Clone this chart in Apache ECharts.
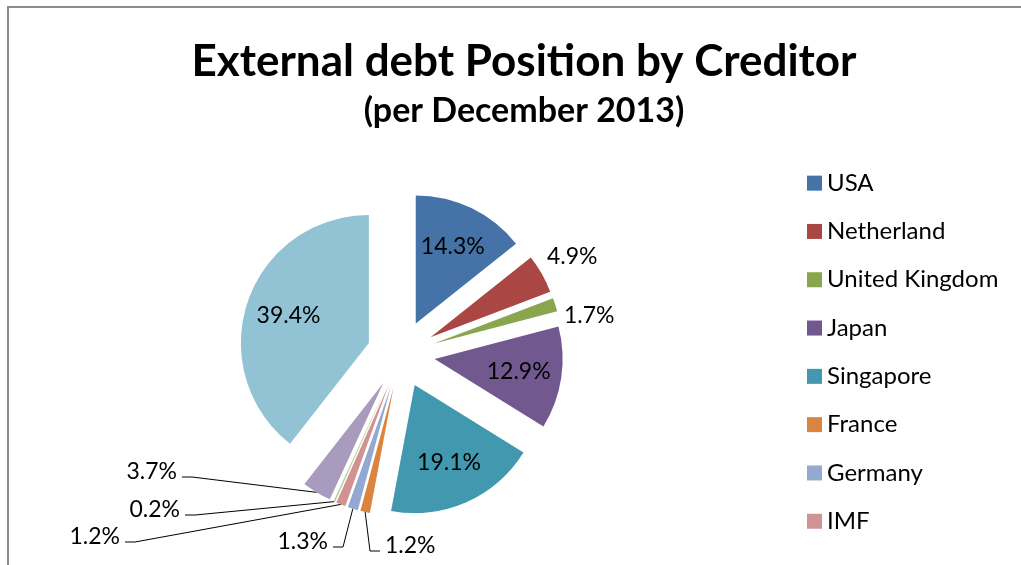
<!DOCTYPE html>
<html><head><meta charset="utf-8">
<script src="https://cdn.jsdelivr.net/npm/echarts@6/dist/echarts.min.js"></script>
<style>html,body{margin:0;padding:0;background:#fff}#c{width:1021px;height:565px}</style>
</head><body><div id="c"></div>
<script>
const creditors = ['USA', 'Netherland', 'United Kingdom', 'Japan', 'Singapore', 'France', 'Germany', 'IMF', 'ADB', 'World Bank', 'Others'];
const shares = [14.3, 4.9, 1.7, 12.9, 19.1, 1.2, 1.3, 1.2, 0.2, 3.7, 39.4];
const colors = ['#4572A7', '#AA4643', '#89A54E', '#71588F', '#4198AF', '#DB843D', '#93A9CF', '#D19392', '#B9CD96', '#A99BBD', '#91C3D5'];
const legendNames = creditors.slice(0, 8);
const titleText = 'External debt Position by Creditor';
const subtitleText = '(per December 2013)';

const R = 128;
const EXPLODE = 34;
const insideSet = new Set([0, 3, 4, 10]);
const total = shares.reduce((a, b) => a + b, 0);
const midAngles = [];
let acc = 0;
shares.forEach(v => { midAngles.push((acc + v / 2) / total * 2 * Math.PI); acc += v; });

// where the outside labels sit: [side of label the line attaches to, label edge x, label centre y]
const labelSpots = {
  1: ['left', 547, 257], 2: ['left', 564, 316],
  5: ['left', 385, 546], 6: ['right', 328, 542], 7: ['right', 120, 537],
  8: ['right', 180, 510], 9: ['right', 177, 472]
};
const LINE_DROP = 5;

const data = creditors.map((name, i) => {
  const inside = insideSet.has(i);
  return {
    name, value: shares[i], selected: true,
    label: { position: inside ? 'inside' : 'outside' },
    labelLine: { show: !inside && i >= 5, length: 10, length2: 10 }
  };
});

const chart = echarts.init(document.getElementById('c'), null, { renderer: 'canvas' });
chart.setOption({
  animation: false,
  color: colors,
  title: [
    { text: titleText, left: 519, top: 35, textAlign: 'center',
      textStyle: { fontFamily: 'Lato', fontWeight: 'bold', fontSize: 44, color: '#000' } },
    { text: subtitleText, left: 519, top: 89, textAlign: 'center',
      textStyle: { fontFamily: 'Lato', fontWeight: 'bold', fontSize: 34, color: '#000' } }
  ],
  graphic: [{
    type: 'rect', shape: { x: 8, y: 7, width: 1200, height: 700 },
    style: { fill: 'none', stroke: '#8c8c8c', lineWidth: 2 }, silent: true
  }],
  legend: {
    data: legendNames, orient: 'vertical', left: 807, top: 169, padding: 0,
    itemWidth: 15, itemHeight: 15, itemGap: 20, icon: 'rect',
    textStyle: { fontFamily: 'Lato', fontSize: 24, color: '#000', lineHeight: 28.3 },
    selectedMode: false
  },
  series: [{
    type: 'pie', center: [401, 354], radius: [0, R],
    startAngle: 90, clockwise: true,
    selectedMode: 'multiple', selectedOffset: EXPLODE,
    avoidLabelOverlap: false, minShowLabelAngle: 0,
    emphasis: { scale: false, disabled: true },
    label: {
      show: true, color: '#000', fontFamily: 'Lato', fontSize: 23,
      formatter: p => p.value.toFixed(1) + '%'
    },
    labelLine: { lineStyle: { color: '#000', width: 1 } },
    labelLayout: function (p) {
      const i = p.dataIndex;
      const a = midAngles[i];
      if (insideSet.has(i)) {
        return { dx: 18 * Math.sin(a), dy: -18 * Math.cos(a) };
      }
      const s = labelSpots[i];
      if (!s) return {};
      // the label is drawn shifted by the explode offset; work in its unshifted frame
      const offX = EXPLODE * Math.sin(a), offY = -EXPLODE * Math.cos(a);
      const tx = s[1] - offX, ty = s[2] - offY;
      const r = p.labelRect;
      const cy = r.y + r.height / 2;
      const curEdge = s[0] === 'left' ? r.x : r.x + r.width;
      const out = { dx: tx - curEdge, dy: ty - cy };
      const pts = p.labelLinePoints;
      if (pts && pts.length >= 3) {
        const defSide = (pts[2][0] < r.x + r.width / 2) ? 'left' : 'right';
        const gx = defSide === 'left' ? r.x - 5 : r.x + r.width + 5;
        const fx = pts[2][0] - gx, fy = pts[2][1] - cy;
        const sign = s[0] === 'left' ? -1 : 1;
        const endX = tx + sign * 5 + fx, endY = ty + fy + LINE_DROP;
        out.labelLinePoints = [
          [pts[0][0], pts[0][1]],
          [endX + sign * 10, endY],
          [endX, endY]
        ];
      }
      return out;
    },
    data: data
  }]
});
</script></body></html>
